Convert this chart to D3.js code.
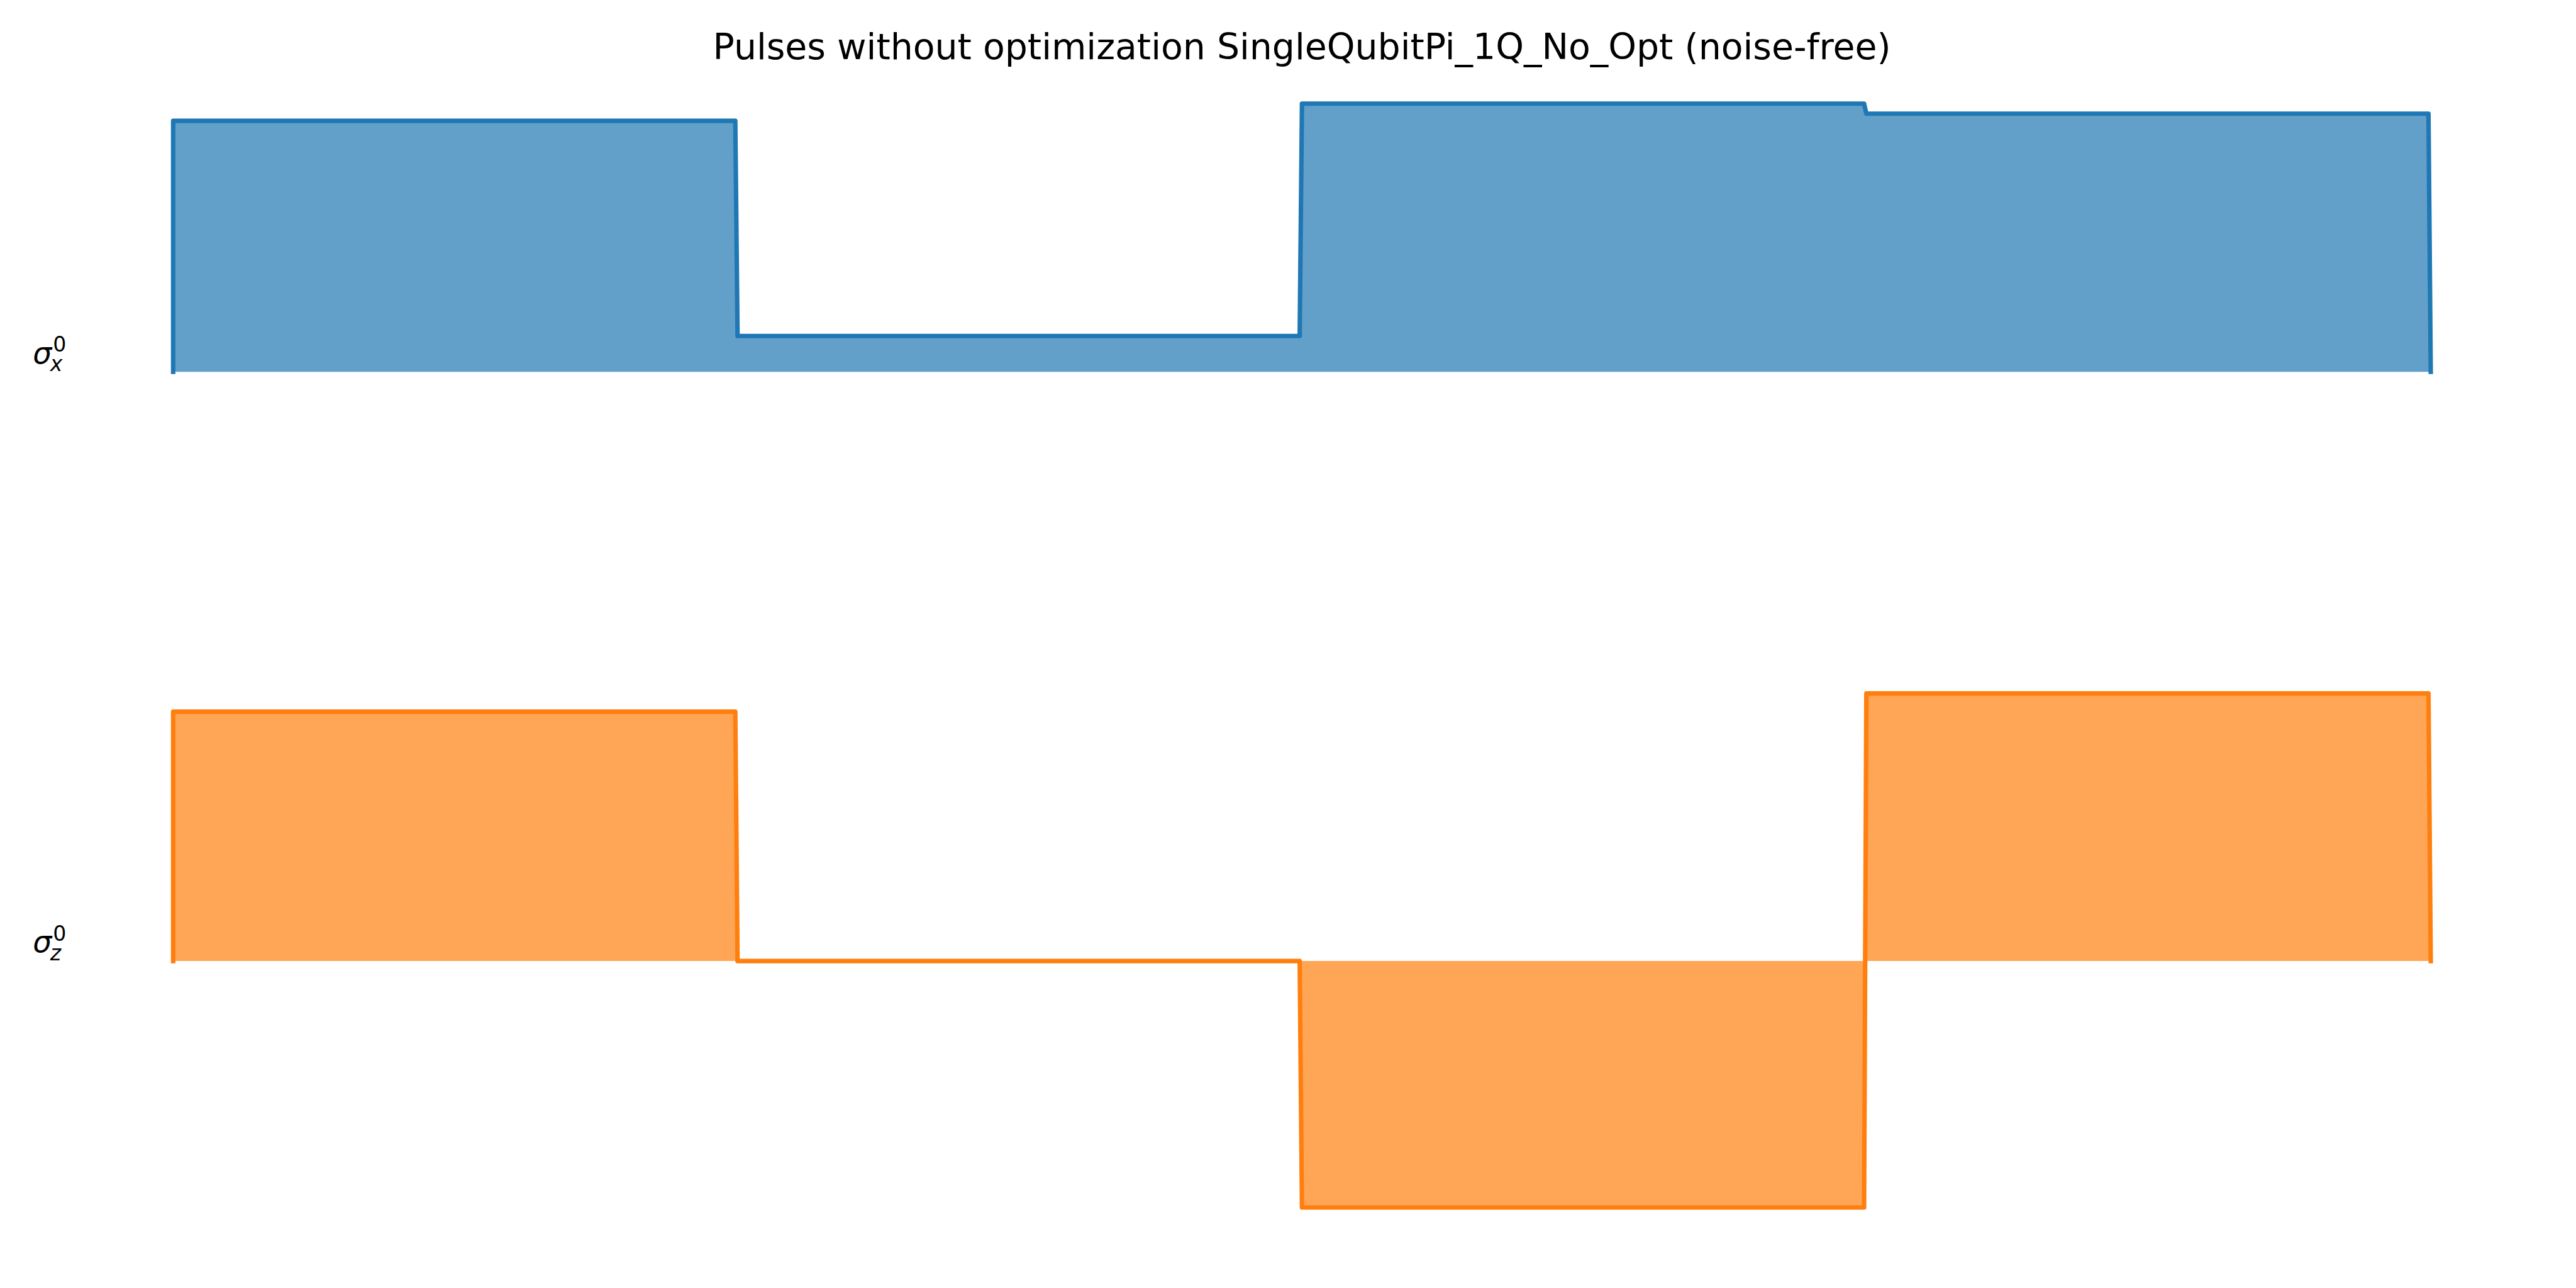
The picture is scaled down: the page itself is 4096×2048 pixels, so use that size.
<!DOCTYPE html>
<html>
<head>
<meta charset="utf-8">
<script src="https://cdn.jsdelivr.net/npm/d3@7"></script>
<style>
  html, body { margin: 0; padding: 0; background: #ffffff; }
  svg { display: block; }
</style>
</head>
<body>
<svg id="chart" width="4096" height="2048"></svg>
<script>
// ---------------- DATA ----------------
const titleText = "Pulses without optimization SingleQubitPi_1Q_No_Opt (noise-free)";
const channels = ["sigma_x", "sigma_z"];
const channelLabels = [
  { base: "σ", sub: "x", sup: "0" },
  { base: "σ", sub: "z", sup: "0" }
];
// piecewise-constant pulse: 4 time segments, each of duration 1
const segmentStarts = [0, 1, 2, 3];
const segmentDuration = 1;
const samplesPerSegment = 250;
const sigmaX = [0.936, 0.1335, 1.000, 0.9626];
const sigmaZ = [0.930, 0.000, -0.919, 0.998];
const seriesValues = [sigmaX, sigmaZ];
const seriesColors = ["#1f77b4", "#ff7f0e"];

// ---------------- LAYOUT ----------------
const W = 4096, H = 2048;
const s = W / 7200;               // reference -> window scale
const svg = d3.select("#chart");

const dt = segmentDuration / samplesPerSegment;
const tEnd = segmentStarts[segmentStarts.length - 1] + segmentDuration;

function buildPoints(vals) {
  const pts = [{ t: segmentStarts[0], v: 0 }];
  vals.forEach((v, i) => {
    pts.push({ t: segmentStarts[i], v: v });
    pts.push({ t: segmentStarts[i] + segmentDuration - dt, v: v });
  });
  pts.push({ t: tEnd, v: 0 });
  return pts;
}

const x = d3.scaleLinear().domain([0, tEnd]).range([484 * s, 6794 * s]);

const allVals = seriesValues.flat().concat([0]);
const vMin = d3.min(allVals), vMax = d3.max(allVals);
const pad = (vMax - vMin) * 0.05;
const yDomain = [vMin - pad, vMax + pad];

const panelTops = [217.8 * s, 1864.8 * s];
const panelH = 1582 * s;

// title
svg.append("text")
  .attr("x", 3639 * s)
  .attr("y", 166 * s)
  .attr("text-anchor", "middle")
  .attr("font-family", "DejaVu Sans")
  .attr("font-size", 100 * s)
  .attr("fill", "#000")
  .text(titleText);

channels.forEach((ch, i) => {
  const y = d3.scaleLinear().domain(yDomain).range([panelTops[i] + panelH, panelTops[i]]);
  const pts = buildPoints(seriesValues[i]);
  const g = svg.append("g").attr("class", "panel-" + ch);

  const area = d3.area().x(d => x(d.t)).y0(y(0)).y1(d => y(d.v));
  const line = d3.line().x(d => x(d.t)).y(d => y(d.v));

  g.append("path")
    .attr("d", area(pts))
    .attr("fill", seriesColors[i])
    .attr("fill-opacity", 0.7)
    .attr("stroke", "none");

  g.append("path")
    .attr("d", line(pts))
    .attr("fill", "none")
    .attr("stroke", seriesColors[i])
    .attr("stroke-width", 12.5 * s)
    .attr("stroke-linejoin", "round")
    .attr("stroke-linecap", "square");

  // channel label (math text: sigma with sub- and superscript)
  const lab = channelLabels[i];
  const base = y(0) - 24 * s;
  const fs = 83.3 * s;
  g.append("text")
    .attr("x", 92 * s).attr("y", base)
    .attr("font-family", "DejaVu Sans").attr("font-style", "italic")
    .attr("font-size", fs).attr("fill", "#000")
    .text(lab.base);
  g.append("text")
    .attr("x", 140 * s).attr("y", base + 22 * s)
    .attr("font-family", "DejaVu Sans").attr("font-style", "italic")
    .attr("font-size", fs * 0.7).attr("fill", "#000")
    .text(lab.sub);
  g.append("text")
    .attr("x", 148 * s).attr("y", base - 33 * s)
    .attr("font-family", "DejaVu Sans")
    .attr("font-size", fs * 0.7).attr("fill", "#000")
    .text(lab.sup);
});
</script>
</body>
</html>
